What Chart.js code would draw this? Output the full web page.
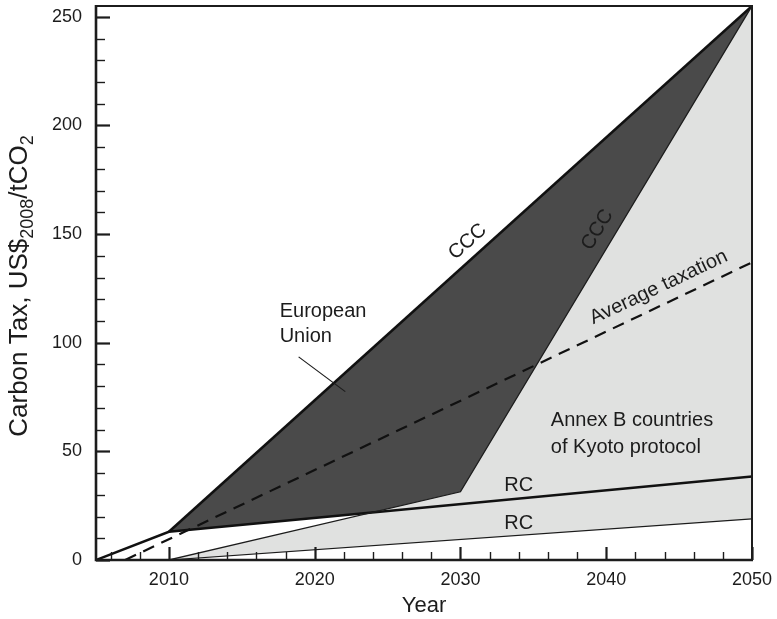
<!DOCTYPE html>
<html><head><meta charset="utf-8">
<script src="https://cdn.jsdelivr.net/npm/chart.js@4/dist/chart.umd.min.js"></script>
<style>html,body{margin:0;padding:0;background:#fff;}#wrap{width:777px;height:619px;}</style>
</head><body><div id="wrap"><canvas id="c" width="777" height="619"></canvas></div>
<script>
// ---- data ----
const xLabelYears = [2010, 2020, 2030, 2040, 2050];
const yLabelValues = [0, 50, 100, 150, 200, 250];
const cccUpperYears = [2010, 2050];
const cccUpperTax = [13, 255];
const rcUpperYears = [2005, 2010, 2050];
const rcUpperTax = [0, 13, 38.4];
const annexTopYears = [2010, 2030, 2050];
const annexTopTax = [0, 31.4, 255];
const rcLowerYears = [2010, 2050];
const rcLowerTax = [0, 18.9];
const avgYears = [2007, 2050];
const avgTax = [0, 137];

const pts = (xs, ys) => xs.map((x, i) => ({x: x, y: ys[i]}));

const FONT = '"Liberation Sans", Arial, Helvetica, sans-serif';
const INK = '#1c1c1c';

// annotation texts (anchored in data coordinates)
const notes = [
  {text: 'CCC', x: 2030.5, y: 146.5, rot: -42, size: 20},
  {text: 'CCC', x: 2039.4, y: 152, rot: -59, size: 20},
  {text: 'Average taxation', x: 2043.6, y: 125.5, rot: -25.3, size: 20},
  {text: 'RC', x: 2034.0, y: 34.2, rot: 0, size: 20},
  {text: 'RC', x: 2034.0, y: 17.0, rot: 0, size: 20},
  {text: 'European', x: 2017.6, y: 114.5, rot: 0, size: 20, align: 'left'},
  {text: 'Union', x: 2017.6, y: 103.0, rot: 0, size: 20, align: 'left'},
  {text: 'Annex B countries', x: 2036.2, y: 64.0, rot: 0, size: 20, align: 'left'},
  {text: 'of Kyoto protocol', x: 2036.2, y: 52.0, rot: 0, size: 20, align: 'left'}
];
const pointer = {x1: 2018.9, y1: 93.5, x2: 2022.1, y2: 77.5};

const decor = {
  id: 'decor',
  afterDatasetsDraw(chart) {
    const ctx = chart.ctx, a = chart.chartArea;
    const xs = chart.scales.x, ys = chart.scales.y;
    ctx.save();
    // frame
    ctx.strokeStyle = INK;
    ctx.lineWidth = 2;
    ctx.beginPath();
    ctx.moveTo(a.left, a.top); ctx.lineTo(a.right, a.top); ctx.lineTo(a.right, a.bottom);
    ctx.stroke();
    ctx.lineWidth = 2.6;
    ctx.beginPath();
    ctx.moveTo(a.left, a.top - 1); ctx.lineTo(a.left, a.bottom); ctx.lineTo(a.right + 1, a.bottom);
    ctx.stroke();
    // inward ticks
    for (let v = 0; v <= 250; v += 10) {
      const p = Math.round(ys.getPixelForValue(v)) + 0.5;
      const major = v % 50 === 0;
      ctx.lineWidth = major ? 2.2 : 1.4;
      ctx.beginPath(); ctx.moveTo(a.left, p); ctx.lineTo(a.left + (major ? 14 : 9), p); ctx.stroke();
    }
    for (let y = 2006; y <= 2050; y += 2) {
      const p = Math.round(xs.getPixelForValue(y)) + 0.5;
      const major = y % 10 === 0;
      ctx.lineWidth = major ? 2.2 : 1.4;
      ctx.beginPath(); ctx.moveTo(p, a.bottom); ctx.lineTo(p, a.bottom - (major ? 13 : 8)); ctx.stroke();
    }
    // annotation texts
    ctx.fillStyle = INK;
    ctx.textBaseline = 'middle';
    notes.forEach(n => {
      ctx.save();
      ctx.translate(xs.getPixelForValue(n.x), ys.getPixelForValue(n.y));
      ctx.rotate(n.rot * Math.PI / 180);
      ctx.font = n.size + 'px ' + FONT;
      ctx.textAlign = n.align || 'center';
      ctx.fillText(n.text, 0, 0);
      ctx.restore();
    });
    // pointer line
    ctx.lineWidth = 1.2;
    ctx.beginPath();
    ctx.moveTo(xs.getPixelForValue(pointer.x1), ys.getPixelForValue(pointer.y1));
    ctx.lineTo(xs.getPixelForValue(pointer.x2), ys.getPixelForValue(pointer.y2));
    ctx.stroke();
    // y-axis title with subscripts
    const parts = [['Carbon Tax, US$', 26, 0], ['2008', 18, 6], ['/tCO', 26, 0], ['2', 18, 6]];
    let total = 0;
    parts.forEach(p => { ctx.font = p[1] + 'px ' + FONT; p.push(ctx.measureText(p[0]).width); total += p[3]; });
    ctx.translate(27, (a.top + a.bottom) / 2 + 3);
    ctx.rotate(-Math.PI / 2);
    ctx.textAlign = 'left';
    ctx.textBaseline = 'alphabetic';
    let cx = -total / 2;
    parts.forEach(p => {
      ctx.font = p[1] + 'px ' + FONT;
      ctx.fillText(p[0], cx, p[2]);
      cx += p[3];
    });
    ctx.restore();
  }
};

new Chart(document.getElementById('c'), {
  type: 'line',
  data: {
    datasets: [
      {label: 'Annex B upper', data: pts(annexTopYears, annexTopTax), borderColor: INK, borderWidth: 1.3,
       backgroundColor: '#e0e1e0', fill: {target: 1}, pointRadius: 0, tension: 0},
      {label: 'RC lower', data: pts(rcLowerYears, rcLowerTax), borderColor: INK, borderWidth: 1.2,
       fill: false, pointRadius: 0, tension: 0},
      {label: 'CCC', data: pts(cccUpperYears, cccUpperTax), borderColor: '#111', borderWidth: 2.5,
       backgroundColor: '#4a4a4a', fill: {target: 3}, pointRadius: 0, tension: 0},
      {label: 'RC', data: pts(rcUpperYears, rcUpperTax), borderColor: '#111', borderWidth: 2.5,
       fill: false, pointRadius: 0, tension: 0},
      {label: 'Average taxation', data: pts(avgYears, avgTax), borderColor: '#111', borderWidth: 2.2,
       borderDash: [12, 8], fill: false, pointRadius: 0, tension: 0}
    ]
  },
  options: {
    responsive: false,
    animation: false,
    devicePixelRatio: 1,
    layout: {padding: {top: 6, right: 25, left: 0, bottom: 0}},
    plugins: {legend: {display: false}, tooltip: {enabled: false}, filler: {drawTime: 'beforeDatasetsDraw'}},
    scales: {
      x: {
        type: 'linear', min: 2005, max: 2050,
        afterBuildTicks: s => { s.ticks = xLabelYears.map(v => ({value: v})); },
        afterFit: s => { s.height = 59; s.paddingLeft = 0; s.paddingRight = 0; },
        grid: {display: false, drawTicks: false},
        border: {display: false},
        ticks: {color: INK, font: {family: FONT, size: 18}, padding: 9, maxRotation: 0,
                callback: v => String(v)},
        title: {display: true, text: 'Year', color: INK, font: {family: FONT, size: 22}, padding: {top: 0, bottom: 0}}
      },
      y: {
        type: 'linear', min: 0, max: 255,
        afterBuildTicks: s => { s.ticks = yLabelValues.map(v => ({value: v})); },
        afterFit: s => { s.width = 96; s.paddingTop = 0; s.paddingBottom = 0; },
        grid: {display: false, drawTicks: false},
        border: {display: false},
        ticks: {color: INK, font: {family: FONT, size: 18}, padding: 14, callback: v => String(v)},
        title: {display: false}
      }
    }
  },
  plugins: [decor]
});
</script>
</body></html>
